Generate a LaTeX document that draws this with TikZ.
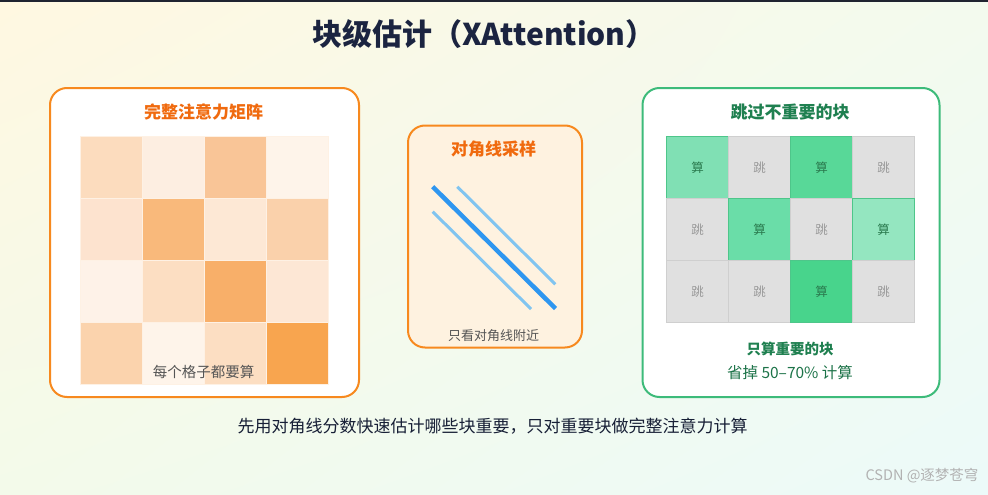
\documentclass[tikz,border=0pt]{standalone}
\usepackage{fontspec}
\usetikzlibrary{shadings}
\setmainfont{Noto Sans CJK SC}
\definecolor{bgA}{HTML}{FFF8E1}
\definecolor{bgB}{HTML}{F3FAEE}
\definecolor{bgC}{HTML}{F3FAEA}
\definecolor{bgD}{HTML}{ECFAF9}
\definecolor{topbar}{HTML}{1F2330}
\definecolor{navy}{HTML}{1B2440}
\definecolor{orangeB}{HTML}{F7891E}
\definecolor{orangeT}{HTML}{F06A0E}
\definecolor{greenB}{HTML}{3DBB7A}
\definecolor{greenT}{HTML}{1F8050}
\definecolor{cream}{HTML}{FEF2E0}
\definecolor{blueD}{HTML}{2E96F0}
\definecolor{blueL}{HTML}{80C4F0}
\definecolor{greyT}{HTML}{555555}
\definecolor{skipF}{HTML}{E0E0E0}
\definecolor{skipB}{HTML}{CFCFCF}
\definecolor{skipT}{HTML}{9A9A9A}
\definecolor{calcT}{HTML}{2A7A4E}
\definecolor{gA}{HTML}{80E0B4}
\definecolor{gB}{HTML}{58D898}
\definecolor{gC}{HTML}{6ADDA8}
\definecolor{gD}{HTML}{94E6C0}
\definecolor{gE}{HTML}{48D48C}
\definecolor{gBorder}{HTML}{4EC68A}
\definecolor{o11}{HTML}{FCDCBE}\definecolor{o12}{HTML}{FDEEE1}\definecolor{o13}{HTML}{F9C597}\definecolor{o14}{HTML}{FEF4EA}
\definecolor{o21}{HTML}{FDE3CF}\definecolor{o22}{HTML}{F9B97B}\definecolor{o23}{HTML}{FDE8D5}\definecolor{o24}{HTML}{FAD1AB}
\definecolor{o31}{HTML}{FEF2E8}\definecolor{o32}{HTML}{FCDEC2}\definecolor{o33}{HTML}{F8AF69}\definecolor{o34}{HTML}{FDE7D5}
\definecolor{o41}{HTML}{FBD3AD}\definecolor{o42}{HTML}{FEF4EA}\definecolor{o43}{HTML}{FCDEC2}\definecolor{o44}{HTML}{F8A54F}
\begin{document}
\begin{tikzpicture}[x=1pt,y=-1pt,
  panel/.style={draw=orangeB, line width=2pt, rounded corners=17pt, fill=white, anchor=north west, inner sep=0pt},
  gpanel/.style={panel, draw=greenB},
  ptitle/.style={font=\fontsize{17}{19}\selectfont\bfseries, text=orangeT},
  gtitle/.style={font=\fontsize{17}{19}\selectfont\bfseries, text=greenT},
  heat/.style={minimum width=62pt, minimum height=62pt, inner sep=0pt, draw=orangeB!12, line width=0.6pt, anchor=north west},
  skipc/.style={minimum width=62pt, minimum height=62pt, inner sep=0pt, fill=skipF, draw=skipB, line width=1pt, anchor=north west, text=skipT, font=\fontsize{12.5}{13}\selectfont},
  calcc/.style={skipc, draw=gBorder, text=calcT},
  note/.style={font=\fontsize{14}{16}\selectfont, text=greyT},
  diagM/.style={draw=blueD, line width=4.5pt},
  diagL/.style={draw=blueL, line width=3pt}
]
\useasboundingbox (0,0) rectangle (988,495);
\shade[upper left=bgA, upper right=bgB, lower left=bgC, lower right=bgD] (0,0) rectangle (988,495);
\fill[topbar] (0,0) rectangle (988,1.6);

\node[font=\fontsize{30}{33}\selectfont\bfseries, text=navy] (title) at (484,34) {块级估计（XAttention）};

% left panel
\node[panel, minimum width=309pt, minimum height=309pt] (left) at (49,87) {};
\node[ptitle] (lefttitle) at (203.5,112) {完整注意力矩阵};
\foreach \r in {1,...,4}{
  \foreach \c in {1,...,4}{
    \node[heat, fill=o\r\c] (L\r\c) at ({80+62*(\c-1)},{136+62*(\r-1)}) {};
  }
}
\node[note, font=\fontsize{14.5}{16}\selectfont] (leftnote) at (203.5,372) {每个格子都要算};

% middle panel
\node[panel, fill=cream, minimum width=174pt, minimum height=222pt] (mid) at (407,124.5) {};
\node[ptitle] (midtitle) at (493.5,149.5) {对角线采样};
\coordinate (m1) at (432.7,186.7);
\coordinate (m2) at (555.5,308.5);
\coordinate (u1) at (457.3,186.7);
\coordinate (u2) at (555.3,284.3);
\coordinate (d1) at (432.7,211.7);
\coordinate (d2) at (531,309);
\draw[diagL] (u1) -- (u2);
\draw[diagL] (d1) -- (d2);
\draw[diagM] (m1) -- (m2);
\node[note, font=\fontsize{13}{15}\selectfont] (midnote) at (493.5,336) {只看对角线附近};

% right panel
\node[gpanel, minimum width=297pt, minimum height=309pt] (right) at (641.5,87) {};
\node[gtitle] (righttitle) at (790,112) {跳过不重要的块};
\node[calcc, fill=gA] (R11) at (666,136) {算};
\node[skipc] (R12) at (728,136) {跳};
\node[calcc, fill=gB] (R13) at (790,136) {算};
\node[skipc] (R14) at (852,136) {跳};
\node[skipc] (R21) at (666,198) {跳};
\node[calcc, fill=gC] (R22) at (728,198) {算};
\node[skipc] (R23) at (790,198) {跳};
\node[calcc, fill=gD] (R24) at (852,198) {算};
\node[skipc] (R31) at (666,260) {跳};
\node[skipc] (R32) at (728,260) {跳};
\node[calcc, fill=gE] (R33) at (790,260) {算};
\node[skipc] (R34) at (852,260) {跳};
\node[font=\fontsize{14.5}{16}\selectfont\bfseries, text=greenT] (rnote1) at (790,348.5) {只算重要的块};
\node[font=\fontsize{15.5}{17}\selectfont, text=greenT!90!black] (rnote2) at (790,372.5) {省掉 50–70\% 计算};

% caption
\node[font=\fontsize{17}{19}\selectfont, text=navy!85!black] (caption) at (492.5,426) {先用对角线分数快速估计哪些块重要，只对重要块做完整注意力计算};

% watermark
\node[font=\fontsize{14.5}{16}\selectfont, text=black!30, anchor=east] (wm) at (982,476) {CSDN @逐梦苍穹};
\end{tikzpicture}
\end{document}
